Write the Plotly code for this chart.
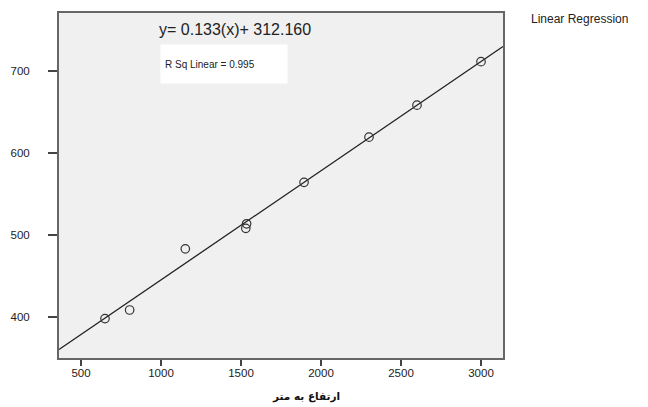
import plotly.graph_objects as go

# Data
elevation_m = [650, 804, 1152, 1535, 1530, 1894, 2300, 2600, 3000]
values = [398, 408.5, 483, 513.5, 508, 564, 619, 658, 711]

slope = 0.133
intercept = 312.16
r_sq = 0.995

x_range = [362.5, 3137.5]
y_range = [350, 770.3]
x_ticks = [500, 1000, 1500, 2000, 2500, 3000]
y_ticks = [400, 500, 600, 700]

fit_x = x_range
fit_y = [slope * v + intercept for v in fit_x]

fig = go.Figure()
fig.add_trace(go.Scatter(
    x=fit_x, y=fit_y, mode="lines",
    line=dict(color="#222222", width=1.3),
    showlegend=False, hoverinfo="skip"))
fig.add_trace(go.Scatter(
    x=elevation_m, y=values, mode="markers",
    marker=dict(symbol="circle-open", size=8.5, color="#333333",
                line=dict(width=1.2, color="#333333")),
    showlegend=False))

axis_font = dict(family="Liberation Sans, Arial, sans-serif", size=11.5, color="#222222")

fig.update_xaxes(range=x_range, tickvals=x_ticks, ticks="outside", ticklen=6,
                 tickwidth=1.5, tickcolor="#444444", ticklabelstandoff=-3,
                 showline=True, linecolor="#666666", linewidth=2, mirror=True,
                 showgrid=False, zeroline=False, tickfont=axis_font)
fig.update_yaxes(range=y_range, tickvals=y_ticks, ticks="outside", ticklen=9,
                 tickwidth=1.5, tickcolor="#444444", ticklabelstandoff=16,
                 showline=True, linecolor="#666666", linewidth=2, mirror=True,
                 showgrid=False, zeroline=False, tickfont=axis_font)

# page body has an 8px margin: figure is 8px smaller, top/left margins reduced by 8
fig.update_layout(
    width=640, height=399,
    margin=dict(l=51, r=145, t=3, b=49),
    plot_bgcolor="#f0f0f0", paper_bgcolor="white",
    annotations=[
        dict(text=f"y= {slope:.3f}(x)+ {intercept:.3f}", xref="paper", yref="paper",
             x=(157 - 59) / 444, y=1 - (28 - 11) / 347, xanchor="left", yanchor="middle",
             showarrow=False, font=dict(family="Liberation Sans, Arial, sans-serif", size=16, color="#222222")),
        dict(text=f"R Sq Linear = {r_sq:.3f}", xref="paper", yref="paper",
             x=(160 - 59) / 444, y=1 - (42 - 11) / 347, xanchor="left", yanchor="top",
             showarrow=False, bgcolor="white", width=118, height=30, align="left",
             borderpad=4,
             font=dict(family="Liberation Sans, Arial, sans-serif", size=10, color="#222222")),
        dict(text="Linear Regression", xref="paper", yref="paper",
             x=(529 - 59) / 444, y=1 - (17 - 11) / 347, xanchor="left", yanchor="middle",
             showarrow=False, font=dict(family="Liberation Sans, Arial, sans-serif", size=12, color="#222222")),
        dict(text="<b>ارتفاع به متر</b>", xref="paper", yref="paper",
             x=(306 - 59) / 444, y=-(397 - 358) / 347, xanchor="center", yanchor="middle",
             showarrow=False, font=dict(family="DejaVu Sans, sans-serif", size=10.5, color="#111111")),
    ],
)

fig.write_html("out.html")
